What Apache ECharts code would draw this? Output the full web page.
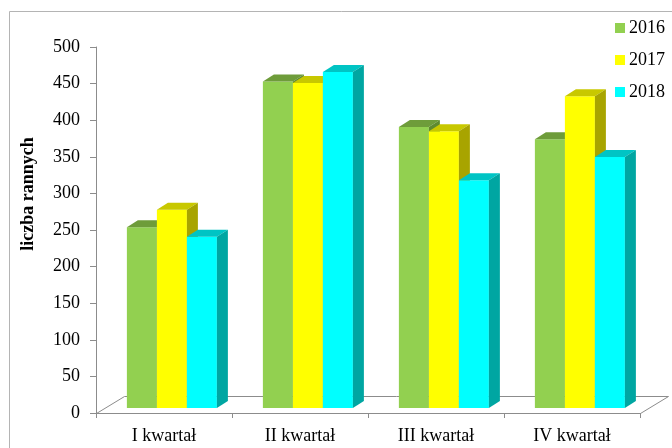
<!DOCTYPE html>
<html>
<head>
<meta charset="utf-8">
<script src="https://cdn.jsdelivr.net/npm/echarts@6/dist/echarts.min.js"></script>
<style>
  html, body { margin: 0; padding: 0; background: #fff; }
  #chart { width: 672px; height: 448px; }
</style>
</head>
<body>
<div id="chart"></div>
<script>
// Quarterly counts of injured people, 2016–2018
const categories = ['I kwartał', 'II kwartał', 'III kwartał', 'IV kwartał'];
const years = ['2016', '2017', '2018'];
const values2016 = [247, 446, 384, 367];
const values2017 = [271, 444, 378, 426];
const values2018 = [234, 459, 311, 343];
const yMin = 0, yMax = 500, yStep = 50;

// face colours per series: front, top, side
const palettes = [
  { front: '#92D050', top: '#6E9C3A', side: '#5E8A30' },
  { front: '#FFFF00', top: '#C8C800', side: '#A8A400' },
  { front: '#00FFFF', top: '#00C4C4', side: '#00A6A2' }
];
const seriesValues = [values2016, values2017, values2018];

const FONT = 'Liberation Serif';
const W = 672, H = 448;
const GRID = { left: 96, right: 32, top: 47, bottom: 35 };
const DEPTH_X = 11, DEPTH_Y = -7;   // bar depth (oblique projection)
const SHIFT_Y = -5;                 // bars stand a little behind the front floor edge
const FLOOR_X = 28, FLOOR_Y = -17;  // floor depth

function makeRenderer(si) {
  const pal = palettes[si];
  return function (params, api) {
    const ci = api.value(0);
    const v = api.value(1);
    const base = api.coord([ci, 0]);
    const top = api.coord([ci, v]);
    const band = api.size([1, 0])[0];
    const bw = band * 0.2206;
    const shiftX = band * 0.058;
    const x0 = base[0] - 1.5 * bw + si * bw + shiftX;
    const yb = base[1] + SHIFT_Y;
    const yt = top[1] + SHIFT_Y;
    const x1 = x0 + bw;
    return {
      type: 'group',
      children: [
        { type: 'rect', shape: { x: x0, y: yt, width: bw, height: yb - yt },
          style: { fill: pal.front } },
        { type: 'polygon', shape: { points: [[x0, yt], [x0 + DEPTH_X, yt + DEPTH_Y], [x1 + DEPTH_X, yt + DEPTH_Y], [x1, yt]] },
          style: { fill: pal.top } },
        { type: 'polygon', shape: { points: [[x1, yt], [x1 + DEPTH_X, yt + DEPTH_Y], [x1 + DEPTH_X, yb + DEPTH_Y], [x1, yb]] },
          style: { fill: pal.side } }
      ]
    };
  };
}

const chart = echarts.init(document.getElementById('chart'), null, { renderer: 'canvas' });

const series = years.map((y, si) => ({
  name: y,
  type: 'custom',
  renderItem: makeRenderer(si),
  itemStyle: { color: palettes[si].front },
  encode: { x: 0, y: 1 },
  data: seriesValues[si].map((v, i) => [i, v]),
  z: 3
}));

// floor corners follow the grid rectangle
const floorL = GRID.left, floorR = W - GRID.right, floorY = H - GRID.bottom;

chart.setOption({
  animation: false,
  backgroundColor: '#ffffff',
  grid: GRID,
  legend: {
    data: years,
    orient: 'vertical',
    left: 610,
    top: 14,
    itemWidth: 10,
    itemHeight: 10,
    itemGap: 14,
    icon: 'rect',
    textStyle: { fontFamily: FONT, fontSize: 18, color: '#000', padding: [0, 0, 0, -1] }
  },
  xAxis: {
    type: 'category',
    data: categories,
    boundaryGap: true,
    axisLine: { lineStyle: { color: '#8c8c8c', width: 1 } },
    axisTick: { show: true, length: 5, lineStyle: { color: '#8c8c8c' } },
    axisLabel: { fontFamily: FONT, fontSize: 18, color: '#000', margin: 14 },
    splitLine: { show: false },
    z: 4
  },
  yAxis: {
    type: 'value',
    min: yMin,
    max: yMax,
    interval: yStep,
    axisLine: { show: true, lineStyle: { color: '#8c8c8c', width: 1 } },
    axisTick: { show: true, length: 6, inside: false, lineStyle: { color: '#8c8c8c' } },
    axisLabel: { fontFamily: FONT, fontSize: 18, color: '#000', margin: 16 },
    splitLine: { show: false },
    z: 4
  },
  graphic: [
    { type: 'rect', z: 0, silent: true,
      shape: { x: 9.5, y: 11.5, width: 700, height: 500 },
      style: { fill: 'none', stroke: '#b4b4b4', lineWidth: 1 } },
    { type: 'polyline', z: 1, silent: true,
      shape: { points: [[floorL + 0.5, floorY + 0.5], [floorL + FLOOR_X + 0.5, floorY + FLOOR_Y + 0.5],
                        [floorR + FLOOR_X + 0.5, floorY + FLOOR_Y + 0.5], [floorR + 0.5, floorY + 0.5]] },
      style: { fill: null, stroke: '#8c8c8c', lineWidth: 1 } },
    { type: 'text', z: 5, silent: true,
      x: 28, y: 194, rotation: Math.PI / 2,
      style: { text: 'liczba rannych', fontFamily: FONT, fontSize: 18, fontWeight: 'bold', fill: '#000',
               align: 'center', verticalAlign: 'middle' } }
  ],
  series: series
});
</script>
</body>
</html>
